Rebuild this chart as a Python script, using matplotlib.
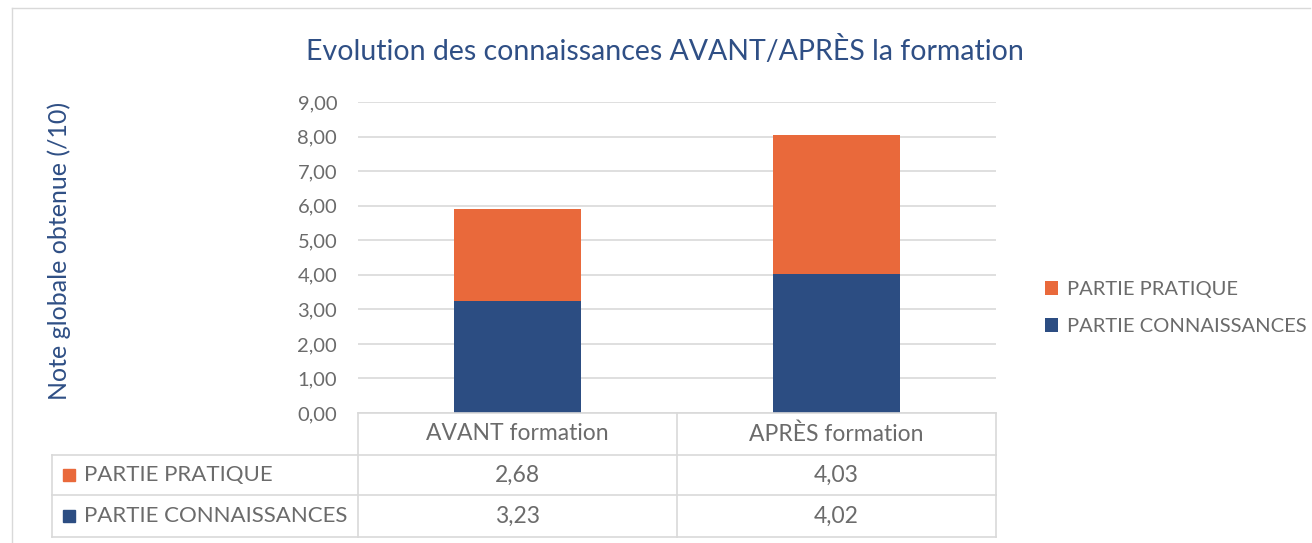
import numpy as np
import matplotlib.pyplot as plt
from matplotlib.lines import Line2D
from matplotlib.patches import Rectangle

# data
categories = ["AVANT formation", "APRÈS formation"]
series_names = ["PARTIE PRATIQUE", "PARTIE CONNAISSANCES"]
pratique = [2.68, 4.03]
connaissances = [3.23, 4.02]
yticks = [0, 1, 2, 3, 4, 5, 6, 7, 8, 9]

BLUE = "#2C4D82"
ORANGE = "#E9693B"
GRID = "#D9D9D9"
TEXT = "#6B6B6B"
TITLE = "#2F4F85"

plt.rcParams["font.family"] = ["Lato", "DejaVu Sans"]


def fr(v):
    return f"{v:.2f}".replace(".", ",")


W, H = 1312, 543
fig = plt.figure(figsize=(W / 100, H / 100), dpi=100)

# outer chart frame
fig.add_artist(Line2D([12 / W, 12 / W], [0, 1 - 8 / H], color=GRID, lw=1))
fig.add_artist(Line2D([12 / W, 1310 / W], [1 - 8 / H, 1 - 8 / H], color=GRID, lw=1))

ax = fig.add_axes([358 / W, 1 - 413 / H, 638 / W, 311 / H])
x = np.arange(len(categories))
b_conn = ax.bar(x, connaissances, width=0.4, color=BLUE, zorder=2)
b_prat = ax.bar(x, pratique, bottom=connaissances, width=0.4, color=ORANGE, zorder=2)

ax.set_xlim(-0.5, len(categories) - 0.5)
ax.set_ylim(0, 9)
ax.set_yticks(yticks)
ax.set_yticklabels([fr(v) for v in yticks], color=TEXT, fontsize=14.5)
ax.set_xticks([])
ax.tick_params(axis="y", length=0, pad=15)
ax.yaxis.grid(True, color=GRID, lw=1.2)
ax.set_axisbelow(True)
for s in ax.spines.values():
    s.set_visible(False)

ax.set_ylabel("Note globale obtenue (/10)", color=TITLE, fontsize=18)
ax.yaxis.set_label_coords((71 - 358) / 638, 0.52)

fig.text(665 / W, 1 - 50 / H, "Evolution des connaissances AVANT/APRÈS la formation",
         ha="center", va="center", color=TITLE, fontsize=20.5)

# data table under the plot (axes coordinates)
lx = (52 - 358) / 638
rows_y = [0, -42 / 311, -82 / 311, -124 / 311]
col_x = [lx, 0, 0.5, 1.0]
lk = dict(color=GRID, lw=1.2, transform=ax.transAxes, clip_on=False)
ax.plot([0, 1], [rows_y[0]] * 2, **lk)
for yy in rows_y[1:]:
    ax.plot([lx, 1], [yy, yy], **lk)
ax.plot([lx, lx], [rows_y[1], rows_y[3]], **lk)
for xx in col_x[1:]:
    ax.plot([xx, xx], [rows_y[0], rows_y[3]], **lk)

for i, cat in enumerate(categories):
    cx = (col_x[i + 1] + col_x[i + 2]) / 2
    ax.text(cx, (rows_y[0] + rows_y[1]) / 2, cat, ha="center", va="center",
            color=TEXT, fontsize=16.5, transform=ax.transAxes)

table_rows = [(series_names[0], pratique, ORANGE), (series_names[1], connaissances, BLUE)]
sq_w, sq_h = 12 / 638, 12 / 311
for r, (name, vals, col) in enumerate(table_rows):
    yc = (rows_y[r + 1] + rows_y[r + 2]) / 2
    ax.add_patch(Rectangle(((63 - 358) / 638, yc - sq_h / 2), sq_w, sq_h, color=col,
                           transform=ax.transAxes, clip_on=False))
    ax.text((84 - 358) / 638, yc, name, ha="left", va="center", color=TEXT,
            fontsize=16, transform=ax.transAxes)
    for i, v in enumerate(vals):
        cx = (col_x[i + 1] + col_x[i + 2]) / 2
        ax.text(cx, yc, fr(v), ha="center", va="center", color=TEXT,
                fontsize=16.5, transform=ax.transAxes)

fig.legend([b_prat, b_conn], series_names, loc="center left",
           bbox_to_anchor=(1027 / W, 1 - 308 / H), frameon=False,
           fontsize=14.5, labelcolor=TEXT, handlelength=0.65, handleheight=0.65,
           handletextpad=0.45, labelspacing=1.0)

fig.savefig("out.png", dpi=100, facecolor="white")
